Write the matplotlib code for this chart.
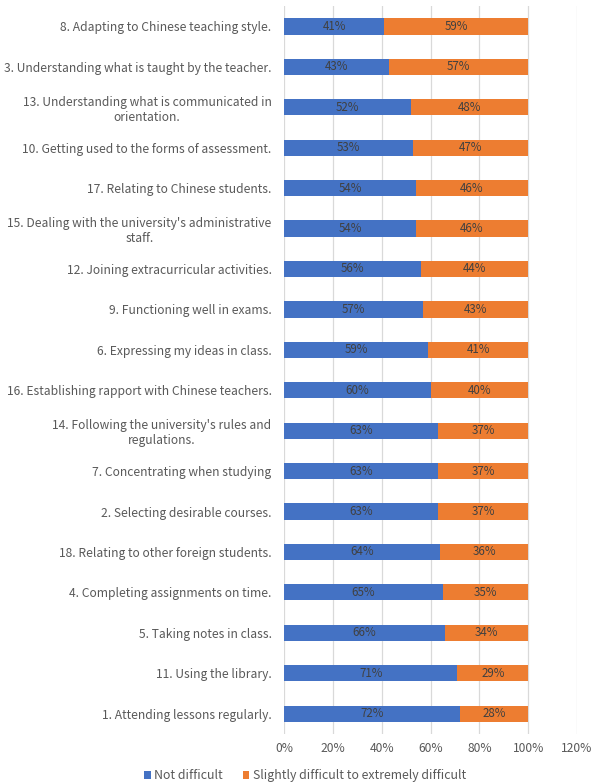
import matplotlib
import matplotlib.pyplot as plt
from matplotlib.ticker import FuncFormatter

matplotlib.use("Agg")

plt.rcParams["font.family"] = ["Noto Sans CJK SC", "DejaVu Sans"]

# top to bottom as shown in the chart
items = [
    "8. Adapting to Chinese teaching style.",
    "3. Understanding what is taught by the teacher.",
    "13. Understanding what is communicated in\norientation.",
    "10. Getting used to the forms of assessment.",
    "17. Relating to Chinese students.",
    "15. Dealing with the university's administrative\nstaff.",
    "12. Joining extracurricular activities.",
    "9. Functioning well in exams.",
    "6. Expressing my ideas in class.",
    "16. Establishing rapport with Chinese teachers.",
    "14. Following the university's rules and\nregulations.",
    "7. Concentrating when studying",
    "2. Selecting desirable courses.",
    "18. Relating to other foreign students.",
    "4. Completing assignments on time.",
    "5. Taking notes in class.",
    "11. Using the library.",
    "1. Attending lessons regularly.",
]
not_difficult = [41, 43, 52, 53, 54, 54, 56, 57, 59, 60, 63, 63, 63, 64, 65, 66, 71, 72]
difficult = [59, 57, 48, 47, 46, 46, 44, 43, 41, 40, 37, 37, 37, 36, 35, 34, 29, 28]

blue = "#4472C4"
orange = "#ED7D31"
grey = "#595959"

fig = plt.figure(figsize=(5.98, 7.84), dpi=100)
ax = fig.add_axes([0.475, 0.064, 0.49, 0.928])

ypos = list(range(len(items)))
b1 = ax.barh(ypos, not_difficult, height=0.4, color=blue, label="Not difficult", zorder=3)
b2 = ax.barh(ypos, difficult, left=not_difficult, height=0.4, color=orange,
             label="Slightly difficult to extremely difficult", zorder=3)

for bars, vals in ((b1, not_difficult), (b2, difficult)):
    for rect, v in zip(bars, vals):
        ax.text(rect.get_x() + rect.get_width() / 2, rect.get_y() + rect.get_height() / 2,
                f"{v}%", ha="center", va="center", fontsize=8.3, color="#404040", zorder=4)

ax.set_yticks(ypos)
ax.set_yticklabels(items, fontsize=8.7, color=grey)
for t in ax.get_yticklabels():
    t.set_multialignment("center")
ax.set_ylim(len(items) - 0.5, -0.5)

ax.set_xlim(0, 120)
ax.set_xticks(range(0, 121, 20))
ax.xaxis.set_major_formatter(FuncFormatter(lambda x, p: f"{int(x)}%"))
ax.tick_params(axis="x", labelsize=8.7, colors=grey, length=0, pad=6)
ax.tick_params(axis="y", length=0, pad=9)
ax.grid(axis="x", color="#D9D9D9", linewidth=0.9, zorder=0)
for s in ax.spines.values():
    s.set_visible(False)

fig.legend(handles=[b1, b2], loc="lower center", bbox_to_anchor=(0.51, -0.012), ncol=2,
           frameon=False, fontsize=8.9, handlelength=0.55, handleheight=0.55,
           handletextpad=0.25, columnspacing=1.6, labelcolor=grey)

fig.savefig("out.png", dpi=100)
plt.close(fig)
